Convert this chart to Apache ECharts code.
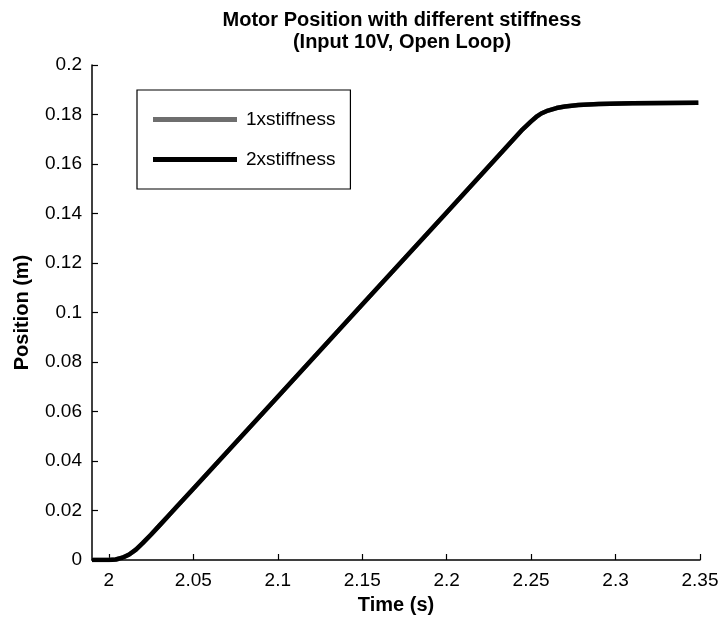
<!DOCTYPE html>
<html>
<head>
<meta charset="utf-8">
<script src="https://cdn.jsdelivr.net/npm/echarts@6/dist/echarts.min.js"></script>
<style>html,body{margin:0;padding:0;background:#fff}#c{width:724px;height:620px}</style>
</head>
<body>
<div id="c"></div>
<script>
const seriesNames = ['1xstiffness', '2xstiffness'];
const time1x = [1.99, 2.000, 2.004, 2.008, 2.012, 2.016, 2.020, 2.025, 2.030, 2.035, 2.040, 2.050, 2.100, 2.150, 2.200, 2.245, 2.250, 2.253, 2.256, 2.260, 2.265, 2.270, 2.278, 2.290, 2.310, 2.330, 2.349];
const pos1x  = [0, 0, 0.0002, 0.0009, 0.0022, 0.0042, 0.0068, 0.0103, 0.0140, 0.0177, 0.0214, 0.0288, 0.0660, 0.1032, 0.1404, 0.1740, 0.1772, 0.1790, 0.1804, 0.1816, 0.1826, 0.1832, 0.1838, 0.1842, 0.1845, 0.1846, 0.1847];
const time2x = [1.99, 2.000, 2.004, 2.008, 2.012, 2.016, 2.020, 2.025, 2.030, 2.035, 2.040, 2.050, 2.100, 2.150, 2.200, 2.245, 2.250, 2.253, 2.256, 2.260, 2.265, 2.270, 2.278, 2.290, 2.310, 2.330, 2.349];
const pos2x  = [0, 0, 0.0002, 0.0009, 0.0022, 0.0042, 0.0068, 0.0103, 0.0140, 0.0177, 0.0214, 0.0288, 0.0660, 0.1032, 0.1404, 0.1740, 0.1772, 0.1790, 0.1804, 0.1816, 0.1826, 0.1832, 0.1838, 0.1842, 0.1845, 0.1846, 0.1847];
const xTicks = [2, 2.05, 2.1, 2.15, 2.2, 2.25, 2.3, 2.35];
const yMin = 0, yMax = 0.2, yStep = 0.02;
const xMin = 1.99, xMax = 2.35;

const zip = (a, b) => a.map((v, i) => [v, b[i]]);
const font = 'Liberation Sans, Arial, sans-serif';
const fmt = v => String(+v.toFixed(2));
const G = {left: 92, right: 24, top: 65, bottom: 60};
const W = 724, H = 620;
const gridW = W - G.left - G.right, gridH = H - G.top - G.bottom;
const tickStyle = {color: '#000', width: 1.2};
const chart = echarts.init(document.getElementById('c'), null, {renderer: 'canvas'});
chart.setOption({
  backgroundColor: '#fff',
  animation: false,
  title: {
    text: 'Motor Position with different stiffness\n(Input 10V, Open Loop)',
    left: 397, top: 4, textAlign: 'center',
    textStyle: {fontFamily: font, fontWeight: 'bold', fontSize: 20, color: '#000', lineHeight: 22}
  },
  grid: G,
  legend: {
    orient: 'vertical', left: 137, top: 90,
    data: seriesNames.map(n => ({name: n, icon: 'rect'})),
    itemWidth: 84, itemHeight: 5, itemGap: 21,
    padding: [20, 15, 20, 16],
    borderColor: '#000', borderWidth: 1.2,
    textStyle: {fontFamily: font, fontSize: 19, color: '#000', padding: [0, 0, 0, 4]}
  },
  xAxis: [{
    type: 'value', min: xMin, max: xMax,
    name: 'Time (s)', nameLocation: 'middle', nameGap: 35,
    nameTextStyle: {fontFamily: font, fontWeight: 'bold', fontSize: 20, color: '#000'},
    axisLine: {lineStyle: {color: '#000', width: 1.5}},
    axisTick: {show: false},
    axisLabel: {customValues: xTicks, margin: 11, fontFamily: font, fontSize: 19, color: '#000', formatter: fmt},
    splitLine: {show: false}
  }, {
    // mirrored axis placed on the bottom edge so its ticks point into the plot
    type: 'value', min: xMin, max: xMax, position: 'top', offset: -gridH,
    axisLine: {show: false},
    axisTick: {show: true, length: 6, customValues: xTicks, lineStyle: tickStyle},
    axisLabel: {show: false},
    splitLine: {show: false}
  }],
  yAxis: [{
    type: 'value', min: yMin, max: yMax, interval: yStep,
    name: 'Position (m)', nameLocation: 'middle', nameGap: 60, nameRotate: 90,
    nameTextStyle: {fontFamily: font, fontWeight: 'bold', fontSize: 20, color: '#000'},
    axisLine: {show: true, lineStyle: {color: '#000', width: 1.5}},
    axisTick: {show: false},
    axisLabel: {margin: 10, fontFamily: font, fontSize: 19, color: '#000', formatter: fmt},
    splitLine: {show: false}
  }, {
    type: 'value', min: yMin, max: yMax, interval: yStep, position: 'right', offset: -gridW,
    axisLine: {show: false},
    axisTick: {show: true, length: 6, lineStyle: tickStyle},
    axisLabel: {show: false},
    splitLine: {show: false}
  }],
  series: [
    {name: seriesNames[0], type: 'line', data: zip(time1x, pos1x), smooth: false, showSymbol: false,
      itemStyle: {color: '#6e6e6e'}, lineStyle: {color: '#6e6e6e', width: 4.5, join: 'round'}},
    {name: seriesNames[1], type: 'line', data: zip(time2x, pos2x), smooth: false, showSymbol: false,
      itemStyle: {color: '#000'}, lineStyle: {color: '#000', width: 4.5, join: 'round'}}
  ]
});
</script>
</body>
</html>
